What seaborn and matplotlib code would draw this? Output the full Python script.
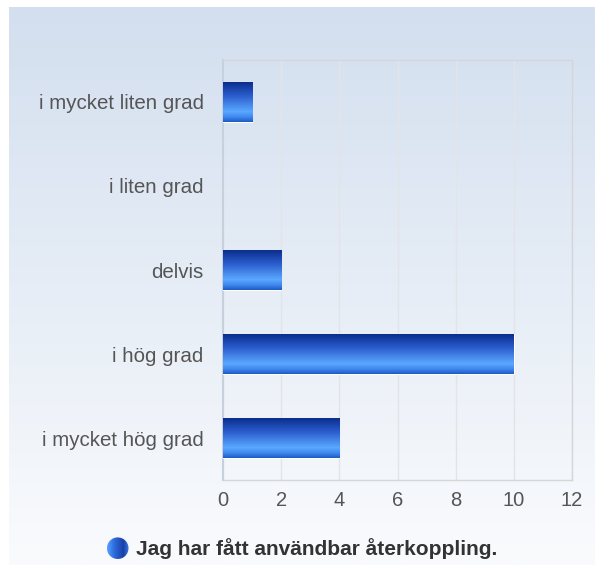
import numpy as np
import pandas as pd
import matplotlib.pyplot as plt
import seaborn as sns
from matplotlib.colors import LinearSegmentedColormap
from matplotlib.legend_handler import HandlerBase
from matplotlib.patches import Circle
from matplotlib.image import BboxImage
from matplotlib.transforms import Bbox, TransformedBbox

categories = ['i mycket liten grad', 'i liten grad', 'delvis', 'i hög grad', 'i mycket hög grad']
counts = [1, 0, 2, 10, 4]
x_ticks = [0, 2, 4, 6, 8, 10, 12]
series_name = 'Jag har fått användbar återkoppling.'

df = pd.DataFrame({'kategori': categories, 'antal': counts})

sns.set_style('white')
plt.rcParams['font.family'] = ['Liberation Sans', 'DejaVu Sans']

fig = plt.figure(figsize=(5.95, 5.65), dpi=100)
fig.patch.set_facecolor('white')

# background panel with vertical gradient
bg = fig.add_axes([9 / 595, 0, 1 - 9 / 595, 1 - 7 / 565], zorder=0)
bg_cmap = LinearSegmentedColormap.from_list('bg', ['#d3dfef', '#e6edf6', '#fafbfd'])
bg.imshow(np.linspace(0, 1, 256).reshape(-1, 1), aspect='auto', cmap=bg_cmap,
          extent=[0, 1, 0, 1])
bg.set_axis_off()

ax = fig.add_axes([223 / 595, 1 - 480 / 565, (572 - 223) / 595, (480 - 60) / 565], zorder=1)
ax.patch.set_alpha(0)

sns.barplot(data=df, x='antal', y='kategori', orient='h', width=0.48,
            color='#2a62cc', edgecolor='white', linewidth=0.8, ax=ax, zorder=3)

bar_cmap = LinearSegmentedColormap.from_list(
    'bar', [(0, '#092a88'), (0.35, '#2a5ccc'), (0.75, '#5aa8ff'), (0.88, '#3f88ee'), (1, '#1c5cc4')])
grad = np.linspace(0, 1, 128).reshape(-1, 1)
for p in ax.patches:
    x0, y0 = p.get_x(), p.get_y()
    w, h = p.get_width(), p.get_height()
    if w <= 0:
        p.set_visible(False)
        continue
    im = ax.imshow(grad, cmap=bar_cmap, aspect='auto', origin='upper',
                   extent=[x0, x0 + w, y0 + h, y0], zorder=3)
    im.set_clip_path(p)
    p.set_facecolor('none')

ax.set_xlim(0, 12)
ax.set_ylim(4.5, -0.5)
ax.set_xticks(x_ticks)
ax.xaxis.grid(True, color='#e2e4e8', linewidth=1)
ax.yaxis.grid(False)
ax.set_axisbelow(True)
ax.set_xlabel('')
ax.set_ylabel('')
for s in ['top', 'right', 'bottom']:
    ax.spines[s].set_color('#d4d6da')
    ax.spines[s].set_linewidth(1)
ax.spines['left'].set_color('#c8d0de')
ax.spines['left'].set_linewidth(1.5)
ax.tick_params(axis='y', length=0, pad=14, labelsize=14.8, labelcolor='#555555')
ax.tick_params(axis='x', length=0, pad=8, labelsize=14.5, labelcolor='#555555')


# gradient ball for the legend
ball_cmap = LinearSegmentedColormap.from_list(
    'ball', [(0, '#5aa2ff'), (0.3, '#2f6fe0'), (0.75, '#1a3fa8'), (1, '#3a7ae0')])


class BallHandler(HandlerBase):
    def create_artists(self, legend, orig_handle, xdescent, ydescent,
                       width, height, fontsize, trans):
        r = 10.8 * 72 / 100
        cx = width / 2 - xdescent
        cy = height / 2 - ydescent
        circ = Circle((cx, cy), r, transform=trans)
        box = TransformedBbox(Bbox.from_bounds(cx - r, cy - r, 2 * r, 2 * r), trans)
        img = BboxImage(box, cmap=ball_cmap, interpolation='bilinear')
        img.set_data(np.linspace(0, 1, 64).reshape(1, -1))
        img.set_clip_path(circ)
        return [img]


handle = Circle((0, 0), 1)
fig.legend([handle], [series_name], loc='center', bbox_to_anchor=(0.5058, 1 - 549 / 565),
           frameon=False, handletextpad=0.25, handlelength=1.3,
           handler_map={Circle: BallHandler()},
           prop={'weight': 'bold', 'size': 15}, labelcolor='#333333')

fig.savefig('out.png', dpi=100)
